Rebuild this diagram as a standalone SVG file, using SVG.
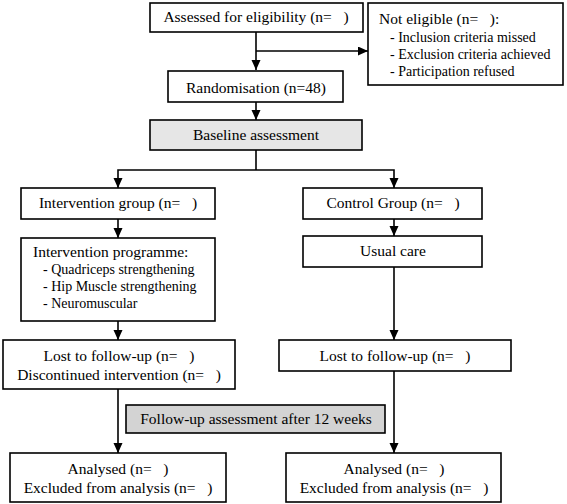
<svg xmlns="http://www.w3.org/2000/svg" width="567" height="504" viewBox="0 0 567 504">
<defs>
<style>
.box{fill:#fff;stroke:#000;stroke-width:1.6}
.g1{fill:#e6e6e6;stroke:#000;stroke-width:1.6}
.g2{fill:#d3d3d3;stroke:#000;stroke-width:1.6}
text{font-family:"Liberation Serif","Times New Roman",serif;font-size:15.5px;fill:#000}
.c{text-anchor:middle}
.s{font-size:14px}
.ln{fill:none;stroke:#000;stroke-width:1.6}
.ar{fill:none;stroke:#000;stroke-width:1.6;marker-end:url(#ah)}
</style>
<marker id="ah" markerUnits="userSpaceOnUse" markerWidth="10" markerHeight="10" refX="10" refY="4.5" orient="auto">
<path d="M0,0 L10,4.5 L0,9 z" fill="#000"/>
</marker>
</defs>
<rect width="567" height="504" fill="#fff"/>
<g id="connectors">
<path class="ar" d="M256,32 V70"/>
<path class="ar" d="M256,51 H368"/>
<path class="ar" d="M256,102 V120"/>
<path class="ln" d="M256,150 V170"/>
<path class="ar" d="M256,170 H118 V188"/>
<path class="ar" d="M256,170 H394 V188"/>
<path class="ar" d="M118,219 V238"/>
<path class="ar" d="M394,219 V236"/>
<path class="ar" d="M118,321 V340"/>
<path class="ar" d="M394,267 V340"/>
<path class="ar" d="M118,389 V453"/>
<path class="ar" d="M394,371 V453"/>
</g>
<g id="assessed">
<rect class="box" x="150" y="3" width="213" height="29"/>
<text class="c" x="256" y="22" xml:space="preserve">Assessed for eligibility (n=   )</text>
</g>
<g id="not-eligible">
<rect class="box" x="368" y="3" width="195" height="82"/>
<text x="379" y="24" xml:space="preserve">Not eligible (n=   ):</text>
<text class="s" x="390" y="42">- Inclusion criteria missed</text>
<text class="s" x="390" y="59">- Exclusion criteria achieved</text>
<text class="s" x="390" y="76">- Participation refused</text>
</g>
<g id="randomisation">
<rect class="box" x="168" y="71" width="175" height="31"/>
<text class="c" x="256" y="93">Randomisation (n=48)</text>
</g>
<g id="baseline">
<rect class="g1" x="150" y="120" width="212" height="30"/>
<text class="c" x="256" y="140">Baseline assessment</text>
</g>
<g id="intervention-group">
<rect class="box" x="21" y="188" width="194" height="31"/>
<text class="c" x="118" y="208" xml:space="preserve">Intervention group (n=   )</text>
</g>
<g id="control-group">
<rect class="box" x="303" y="188" width="179" height="31"/>
<text class="c" x="393" y="208" xml:space="preserve">Control Group (n=   )</text>
</g>
<g id="intervention-programme">
<rect class="box" x="21" y="238" width="194" height="83"/>
<text x="33" y="257">Intervention programme:</text>
<text class="s" x="43" y="274">- Quadriceps strengthening</text>
<text class="s" x="43" y="291">- Hip Muscle strengthening</text>
<text class="s" x="43" y="308">- Neuromuscular</text>
</g>
<g id="usual-care">
<rect class="box" x="303" y="236" width="179" height="31"/>
<text class="c" x="393" y="256">Usual care</text>
</g>
<g id="lost-intervention">
<rect class="box" x="3" y="340" width="232" height="49"/>
<text class="c" x="119" y="361" xml:space="preserve">Lost to follow-up (n=   )</text>
<text class="c" x="119" y="380" xml:space="preserve">Discontinued intervention (n=   )</text>
</g>
<g id="lost-control">
<rect class="box" x="279" y="340" width="232" height="31"/>
<text class="c" x="395" y="361" xml:space="preserve">Lost to follow-up (n=   )</text>
</g>
<g id="follow-up">
<rect class="g2" x="126" y="405" width="259" height="28"/>
<text class="c" x="256" y="424">Follow-up assessment after 12 weeks</text>
</g>
<g id="analysed-intervention">
<rect class="box" x="10" y="453" width="216" height="49"/>
<text class="c" x="118" y="474" xml:space="preserve">Analysed (n=   )</text>
<text class="c" x="118" y="493" xml:space="preserve">Excluded from analysis (n=   )</text>
</g>
<g id="analysed-control">
<rect class="box" x="286" y="453" width="215" height="49"/>
<text class="c" x="394" y="474" xml:space="preserve">Analysed (n=   )</text>
<text class="c" x="394" y="493" xml:space="preserve">Excluded from analysis (n=   )</text>
</g>
</svg>
